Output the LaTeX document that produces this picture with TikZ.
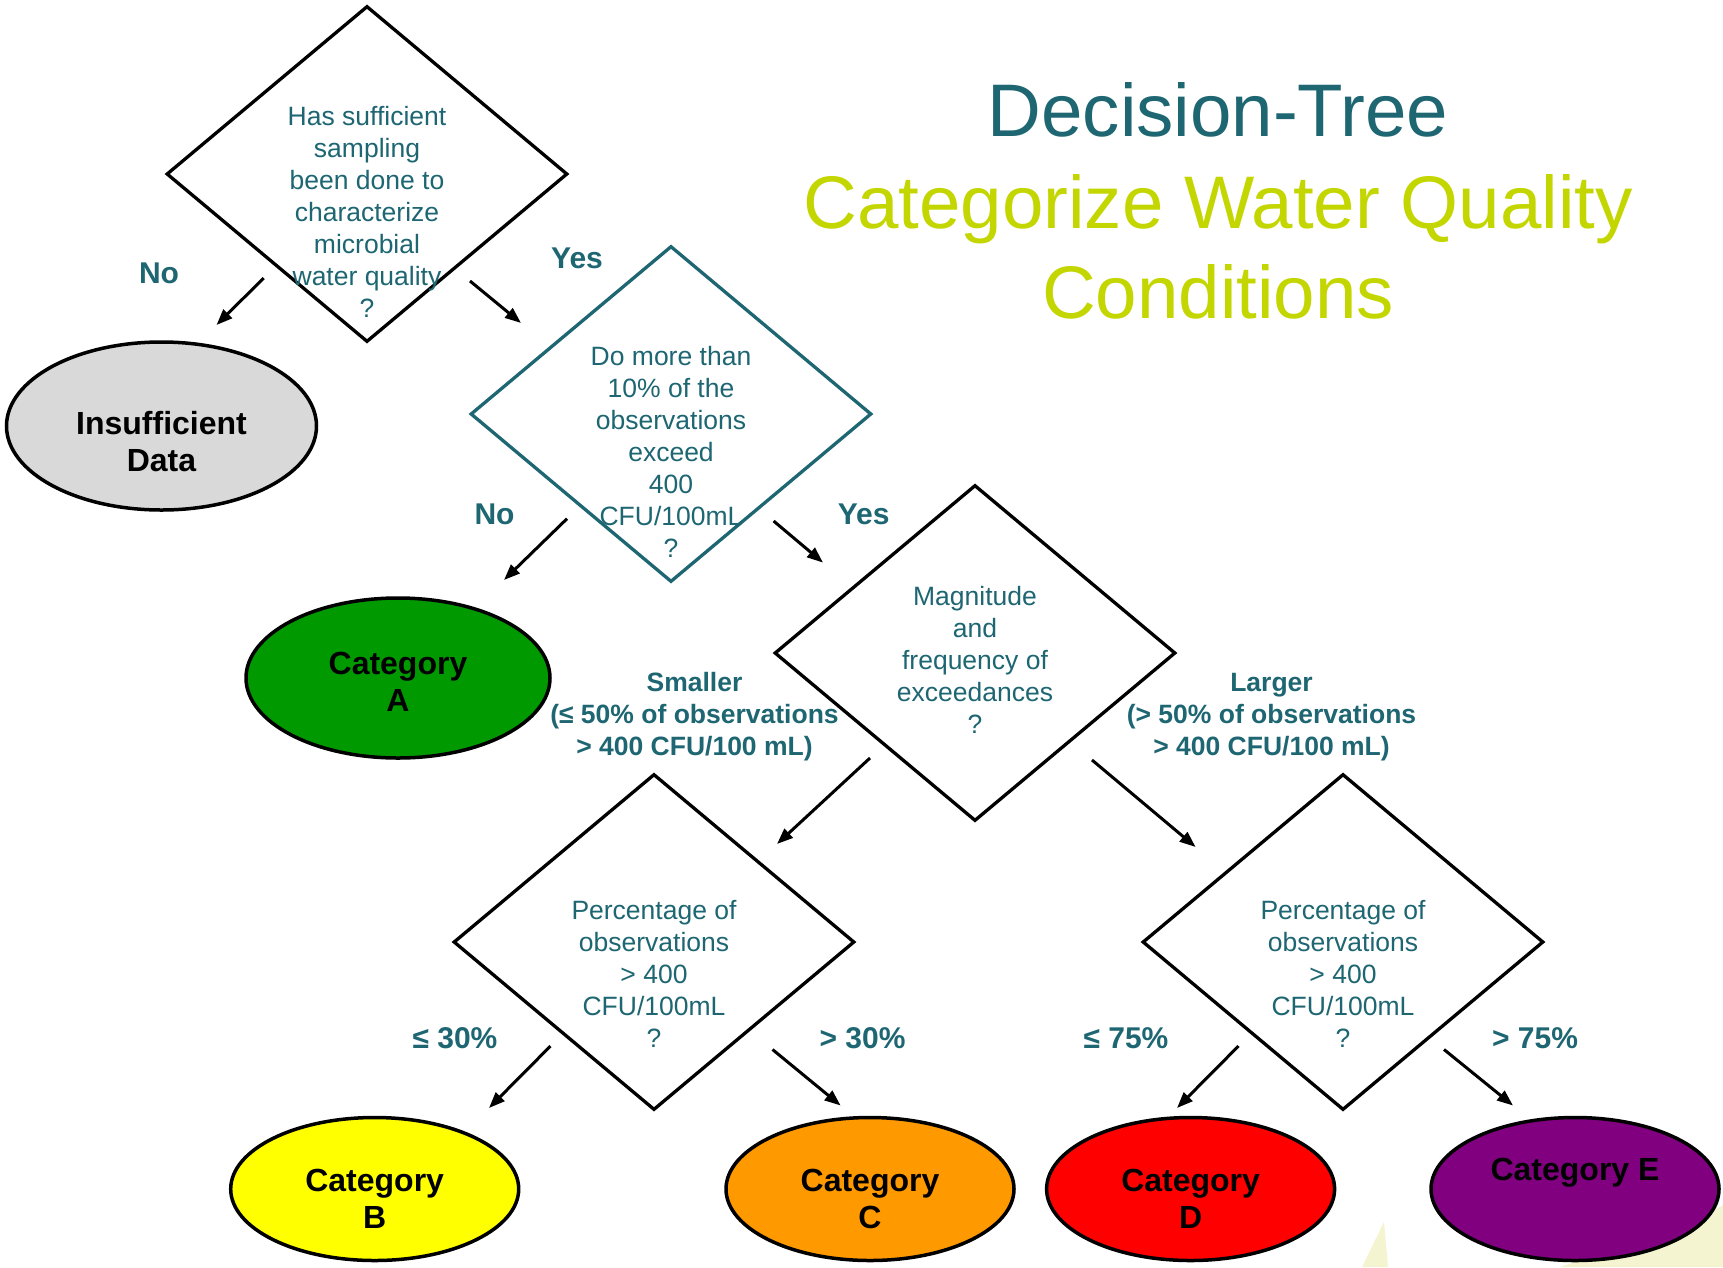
\documentclass[tikz,border=0pt]{standalone}
\usepackage{fontspec}
\setmainfont{Liberation Sans}
\usetikzlibrary{shapes.geometric,arrows.meta}
\definecolor{tealc}{HTML}{1D6672}
\definecolor{limec}{HTML}{C3D600}
\definecolor{greyc}{HTML}{D9D9D9}
\definecolor{greenc}{HTML}{009900}
\definecolor{yellowc}{HTML}{FFFF00}
\definecolor{orangec}{HTML}{FF9900}
\definecolor{redc}{HTML}{FF0000}
\definecolor{purplec}{HTML}{800080}
\definecolor{palec}{HTML}{F4F4D0}
\begin{document}
\begin{tikzpicture}[x=1pt,y=-1pt,
 dia/.style={diamond, draw, line width=3.3pt, minimum width=401pt, minimum height=336pt, inner sep=0pt},
 qtext/.style={text=tealc, align=center, inner sep=0pt, font=\fontsize{26.5}{32}\selectfont},
 cat/.style={ellipse, draw, line width=3.5pt, inner sep=0pt},
 cattext/.style={align=center, inner sep=0pt, font=\bfseries\fontsize{32}{37}\selectfont},
 lbl/.style={text=tealc, align=center, inner sep=0pt, font=\bfseries\fontsize{30}{34}\selectfont},
 sublbl/.style={text=tealc, align=center, inner sep=0pt, font=\bfseries\fontsize{26.5}{32}\selectfont},
 arr/.style={line width=3pt, -{Triangle[length=16pt,width=12pt]}},
 ttl/.style={anchor=base, inner sep=0pt, font=\fontsize{74.5}{88}\selectfont}
]
\useasboundingbox (0,0) rectangle (1723,1267);
\fill[white] (0,0) rectangle (1723,1267);
% pale background shapes
\fill[palec] (1362,1267) -- (1384,1222) -- (1388,1267) -- cycle;
\fill[palec] (1560,1267) .. controls (1640,1240) and (1690,1225) .. (1723,1205) -- (1723,1267) -- cycle;

% title
\node[ttl, text=tealc] (t1) at (1218,136) {Decision-Tree};
\node[ttl, text=limec] (t2) at (1218,228) {Categorize Water Quality};
\node[ttl, text=limec] (t3) at (1218,318) {Conditions};

% diamonds
\node[dia] (d1) at (367,174) {};
\node[qtext] (q1) at (367,212) {Has sufficient\\sampling\\been done to\\characterize\\microbial\\water quality\\?};
\node[dia, draw=tealc] (d2) at (671,414) {};
\node[qtext] (q2) at (671,452) {Do more than\\10\% of the\\observations\\exceed\\400\\CFU/100mL\\?};
\node[dia] (d3) at (975,653) {};
\node[qtext] (q3) at (975,660) {Magnitude\\and\\frequency of\\exceedances\\?};
\node[dia] (d4) at (654,942) {};
\node[qtext] (q4) at (654,974) {Percentage of\\observations\\> 400\\CFU/100mL\\?};
\node[dia] (d5) at (1343,942) {};
\node[qtext] (q5) at (1343,974) {Percentage of\\observations\\> 400\\CFU/100mL\\?};

% ellipses
\node[cat, fill=greyc, minimum width=310pt, minimum height=168pt] (eI) at (161.5,426) {};
\node[cattext] (tI) at (161.5,442) {Insufficient\\Data};
\node[cat, fill=greenc, minimum width=304pt, minimum height=160pt] (eA) at (398,678) {};
\node[cattext] (tA) at (398,682) {Category\\A};
\node[cat, fill=yellowc, minimum width=288pt, minimum height=143pt] (eB) at (374.7,1189) {};
\node[cattext] (tB) at (374.7,1199) {Category\\B};
\node[cat, fill=orangec, minimum width=288pt, minimum height=143pt] (eC) at (870,1189) {};
\node[cattext] (tC) at (870,1199) {Category\\C};
\node[cat, fill=redc, minimum width=288pt, minimum height=143pt] (eD) at (1190.6,1189) {};
\node[cattext] (tD) at (1190.6,1199) {Category\\D};
\node[cat, fill=purplec, minimum width=288pt, minimum height=143pt] (eE) at (1575,1189) {};
\node[cattext] (tE) at (1575,1173) {Category E};

% arrows
\coordinate (a1s) at (263.7,278); \coordinate (a1e) at (216.5,325);
\coordinate (a2s) at (470,281);   \coordinate (a2e) at (521,323);
\coordinate (a3s) at (567,518.7); \coordinate (a3e) at (504,580);
\coordinate (a4s) at (773.6,521); \coordinate (a4e) at (823,562.6);
\coordinate (a5s) at (870,758);   \coordinate (a5e) at (777,844);
\coordinate (a6s) at (1092,760);  \coordinate (a6e) at (1195.6,847);
\coordinate (a7s) at (550.5,1046);\coordinate (a7e) at (489,1108);
\coordinate (a8s) at (772.5,1049.5);\coordinate (a8e) at (840.6,1105.5);
\coordinate (a9s) at (1238.5,1046);\coordinate (a9e) at (1177,1108);
\coordinate (a10s) at (1444,1049.5);\coordinate (a10e) at (1513,1105.5);
\foreach \i in {1,...,10} {\draw[arr] (a\i s) -- (a\i e);}

% labels
\node[lbl] (lno1) at (159,273.5) {No};
\node[lbl] (lyes1) at (577,258) {Yes};
\node[lbl] (lno2) at (494.5,514) {No};
\node[lbl] (lyes2) at (863.7,514) {Yes};
\node[sublbl] (lsm) at (694.5,717) {Smaller\\(≤ 50\% of observations\\> 400 CFU/100 mL)};
\node[sublbl] (llg) at (1271.5,717) {Larger\\(> 50\% of observations\\> 400 CFU/100 mL)};
\node[lbl] (l30a) at (455,1038) {≤ 30\%};
\node[lbl] (l30b) at (862.6,1038) {> 30\%};
\node[lbl] (l75a) at (1126,1038) {≤ 75\%};
\node[lbl] (l75b) at (1535,1038) {> 75\%};
\end{tikzpicture}
\end{document}
